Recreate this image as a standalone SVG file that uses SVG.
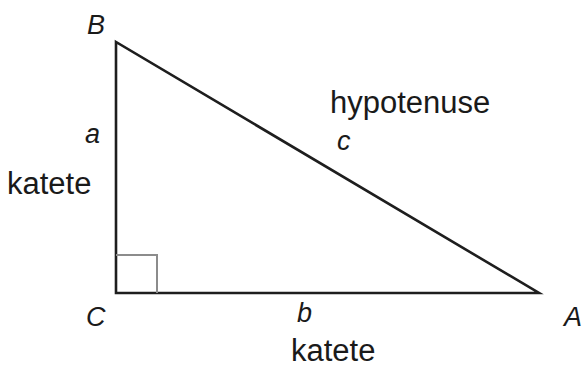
<svg xmlns="http://www.w3.org/2000/svg" width="586" height="370" viewBox="0 0 586 370">
<style>
.side{fill:none;stroke:#1e1e1e;stroke-width:2.6;stroke-linejoin:miter}
.ra{fill:none;stroke:#8c8c8c;stroke-width:2}
.lbl{font-family:"Liberation Sans",Arial,sans-serif;font-size:31px;fill:#1a1a1a}
.var{font-family:"Liberation Sans",Arial,sans-serif;font-size:27px;font-style:italic;fill:#1a1a1a}
</style>
<rect width="586" height="370" fill="#ffffff"/>
<g id="connectors">
<polygon class="side" points="116,42 116,293 539,293"/>
</g>
<g id="right-angle">
<polyline class="ra" points="116,255 157,255 157,293"/>
</g>
<g id="vertex-B"><text class="var" x="87" y="34">B</text></g>
<g id="vertex-C"><text class="var" x="86" y="326">C</text></g>
<g id="vertex-A"><text class="var" x="564" y="326">A</text></g>
<g id="side-a">
<text class="var" x="85" y="143">a</text>
<text class="lbl" x="7" y="194">katete</text>
</g>
<g id="side-b">
<text class="var" x="297" y="322">b</text>
<text class="lbl" x="291" y="361">katete</text>
</g>
<g id="side-c">
<text class="lbl" x="330" y="113">hypotenuse</text>
<text class="var" x="337" y="150">c</text>
</g>
</svg>
